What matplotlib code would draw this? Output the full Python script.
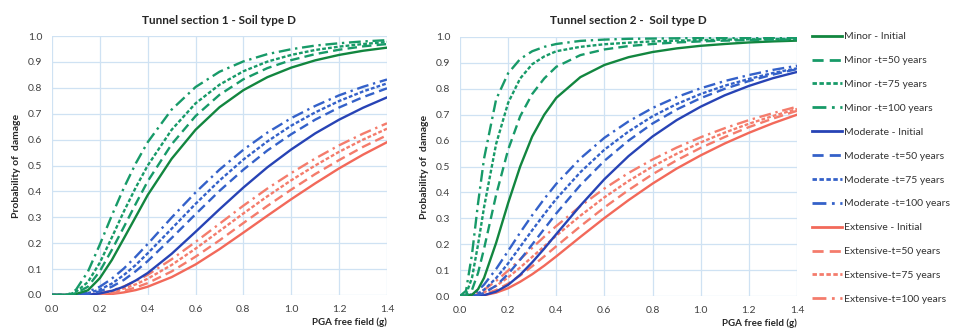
import matplotlib
matplotlib.use('Agg')
import matplotlib.pyplot as plt
from matplotlib.lines import Line2D

plt.rcParams['font.family'] = ['Lato', 'DejaVu Sans']

# PGA free field (g)
pga = [0, 0.025, 0.05, 0.075, 0.1, 0.15, 0.2, 0.25, 0.3, 0.35, 0.4,
       0.5, 0.6, 0.7, 0.8, 0.9, 1.0, 1.1, 1.2, 1.3, 1.4]

# Tunnel section 1
minor_init_1 = [0, 0, 0, 0.001, 0.004, 0.018, 0.065, 0.135, 0.218, 0.302, 0.386, 0.526, 0.638, 0.725, 0.791, 0.841, 0.878, 0.906, 0.927, 0.943, 0.955]
minor_50_1 = [0, 0, 0, 0.002, 0.007, 0.032, 0.092, 0.174, 0.262, 0.352, 0.439, 0.582, 0.691, 0.773, 0.833, 0.876, 0.907, 0.930, 0.947, 0.960, 0.969]
minor_75_1 = [0, 0, 0, 0.003, 0.012, 0.050, 0.125, 0.222, 0.322, 0.415, 0.500, 0.638, 0.740, 0.812, 0.864, 0.901, 0.927, 0.946, 0.959, 0.969, 0.977]
minor_100_1 = [0, 0, 0.001, 0.005, 0.020, 0.090, 0.195, 0.307, 0.413, 0.508, 0.590, 0.716, 0.803, 0.862, 0.902, 0.930, 0.949, 0.963, 0.972, 0.979, 0.984]
moderate_init_1 = [0, 0, 0, 0, 0, 0.001, 0.006, 0.016, 0.032, 0.056, 0.085, 0.159, 0.244, 0.331, 0.415, 0.493, 0.562, 0.624, 0.677, 0.723, 0.763]
moderate_50_1 = [0, 0, 0, 0, 0, 0.004, 0.014, 0.032, 0.058, 0.092, 0.131, 0.220, 0.312, 0.402, 0.484, 0.558, 0.621, 0.677, 0.724, 0.764, 0.798]
moderate_75_1 = [0, 0, 0, 0, 0.001, 0.007, 0.021, 0.044, 0.077, 0.116, 0.161, 0.256, 0.352, 0.442, 0.523, 0.593, 0.654, 0.705, 0.749, 0.786, 0.817]
moderate_100_1 = [0, 0, 0, 0, 0.002, 0.012, 0.032, 0.063, 0.102, 0.148, 0.197, 0.299, 0.396, 0.484, 0.561, 0.627, 0.683, 0.730, 0.771, 0.804, 0.832]
extensive_init_1 = [0, 0, 0, 0, 0, 0, 0.001, 0.004, 0.010, 0.019, 0.032, 0.069, 0.118, 0.177, 0.241, 0.306, 0.370, 0.431, 0.489, 0.542, 0.590]
extensive_50_1 = [0, 0, 0, 0, 0, 0.001, 0.003, 0.007, 0.016, 0.029, 0.046, 0.091, 0.148, 0.211, 0.278, 0.344, 0.407, 0.467, 0.521, 0.572, 0.617]
extensive_75_1 = [0, 0, 0, 0, 0, 0.001, 0.005, 0.012, 0.025, 0.041, 0.063, 0.116, 0.179, 0.247, 0.315, 0.381, 0.443, 0.500, 0.553, 0.600, 0.642]
extensive_100_1 = [0, 0, 0, 0, 0, 0.002, 0.007, 0.017, 0.033, 0.053, 0.078, 0.138, 0.205, 0.275, 0.345, 0.411, 0.471, 0.527, 0.578, 0.623, 0.663]

# Tunnel section 2
minor_init_2 = [0, 0, 0.005, 0.026, 0.070, 0.205, 0.359, 0.500, 0.616, 0.700, 0.765, 0.845, 0.892, 0.922, 0.942, 0.956, 0.966, 0.973, 0.979, 0.983, 0.986]
minor_50_2 = [0, 0.001, 0.024, 0.089, 0.183, 0.390, 0.565, 0.694, 0.780, 0.840, 0.885, 0.930, 0.952, 0.965, 0.973, 0.979, 0.983, 0.986, 0.988, 0.990, 0.991]
minor_75_2 = [0, 0.006, 0.071, 0.199, 0.343, 0.587, 0.746, 0.840, 0.895, 0.925, 0.945, 0.962, 0.972, 0.978, 0.983, 0.986, 0.988, 0.990, 0.991, 0.992, 0.993]
minor_100_2 = [0, 0.020, 0.162, 0.358, 0.531, 0.759, 0.860, 0.915, 0.945, 0.962, 0.973, 0.985, 0.990, 0.993, 0.994, 0.995, 0.996, 0.996, 0.997, 0.997, 0.997]
moderate_init_2 = [0, 0, 0, 0.001, 0.003, 0.017, 0.043, 0.082, 0.130, 0.183, 0.239, 0.349, 0.451, 0.540, 0.616, 0.679, 0.731, 0.775, 0.811, 0.841, 0.865]
moderate_50_2 = [0, 0, 0.001, 0.004, 0.012, 0.040, 0.085, 0.140, 0.199, 0.259, 0.319, 0.428, 0.522, 0.600, 0.666, 0.720, 0.764, 0.800, 0.830, 0.855, 0.876]
moderate_75_2 = [0, 0, 0.003, 0.010, 0.024, 0.069, 0.126, 0.190, 0.254, 0.316, 0.375, 0.478, 0.565, 0.635, 0.694, 0.741, 0.780, 0.812, 0.838, 0.861, 0.879]
moderate_100_2 = [0, 0.001, 0.007, 0.021, 0.044, 0.104, 0.174, 0.245, 0.312, 0.375, 0.433, 0.531, 0.611, 0.674, 0.726, 0.768, 0.802, 0.830, 0.853, 0.873, 0.889]
extensive_init_2 = [0, 0, 0, 0.001, 0.003, 0.013, 0.030, 0.055, 0.084, 0.117, 0.153, 0.228, 0.301, 0.370, 0.434, 0.492, 0.543, 0.589, 0.630, 0.667, 0.700]
extensive_50_2 = [0, 0, 0.001, 0.003, 0.007, 0.023, 0.048, 0.079, 0.115, 0.153, 0.192, 0.269, 0.342, 0.409, 0.470, 0.524, 0.572, 0.614, 0.652, 0.685, 0.715]
extensive_75_2 = [0, 0, 0.002, 0.006, 0.014, 0.039, 0.072, 0.110, 0.151, 0.192, 0.233, 0.310, 0.381, 0.444, 0.500, 0.549, 0.593, 0.631, 0.665, 0.695, 0.722]
extensive_100_2 = [0, 0.001, 0.004, 0.012, 0.024, 0.058, 0.098, 0.142, 0.186, 0.229, 0.270, 0.347, 0.415, 0.475, 0.527, 0.573, 0.613, 0.648, 0.679, 0.706, 0.731]

labels = ['Minor - Initial', 'Minor -t=50 years', 'Minor -t=75 years', 'Minor -t=100 years',
          'Moderate - Initial', 'Moderate -t=50 years', 'Moderate -t=75 years', 'Moderate -t=100 years',
          'Extensive - Initial', 'Extensive-t=50 years', 'Extensive-t=75 years', 'Extensive-t=100 years']

section_1 = [minor_init_1, minor_50_1, minor_75_1, minor_100_1,
             moderate_init_1, moderate_50_1, moderate_75_1, moderate_100_1,
             extensive_init_1, extensive_50_1, extensive_75_1, extensive_100_1]
section_2 = [minor_init_2, minor_50_2, minor_75_2, minor_100_2,
             moderate_init_2, moderate_50_2, moderate_75_2, moderate_100_2,
             extensive_init_2, extensive_50_2, extensive_75_2, extensive_100_2]

# line styles per damage state / time
solid_colors = ['#12863f', '#2743b5', '#f2695a']
dash_colors = ['#179a68', '#3461c9', '#f47c6c']
styles = ['-', (0, (4, 2.2)), (0, (1.6, 0.9)), (0, (5, 2, 1, 2))]

fig = plt.figure(figsize=(9.55, 3.31), dpi=100)
ax1 = fig.add_axes([52 / 955, 1 - 295 / 331, 335 / 955, 259 / 331])
ax2 = fig.add_axes([460 / 955, 1 - 296 / 331, 337 / 955, 259 / 331])

handles = []
for ax, data, title in [(ax1, section_1, 'Tunnel section 1 - Soil type D'),
                        (ax2, section_2, 'Tunnel section 2 -  Soil type D')]:
    for i, vals in enumerate(data):
        state, t = divmod(i, 4)
        c = solid_colors[state] if t == 0 else dash_colors[state]
        ax.plot(pga, vals, color=c, linestyle=styles[t], lw=1.7, zorder=3 + (2 - state))
    ax.set_xlim(0, 1.4)
    ax.set_ylim(0, 1.0)
    ax.set_xticks([0, 0.2, 0.4, 0.6, 0.8, 1.0, 1.2, 1.4])
    ax.set_yticks([i / 10 for i in range(11)])
    ax.xaxis.set_major_formatter(matplotlib.ticker.FormatStrFormatter('%.1f'))
    ax.yaxis.set_major_formatter(matplotlib.ticker.FormatStrFormatter('%.1f'))
    ax.tick_params(length=0, labelsize=7.5, labelcolor='#404040', pad=7)
    ax.grid(True, color='#cfe2f3', lw=0.9)
    ax.set_axisbelow(True)
    for s in ax.spines.values():
        s.set_visible(False)
    ax.set_title(title, fontsize=8.5, fontweight='bold', color='#262626', pad=9)
    ax.set_ylabel('Probability of  damage', fontsize=7.5, fontweight='bold', color='#262626', labelpad=5)
    ax.set_xlabel('PGA free field (g)', fontsize=7, fontweight='bold', color='#262626', loc='right', labelpad=3)

for i, lab in enumerate(labels):
    state, t = divmod(i, 4)
    c = solid_colors[state] if t == 0 else dash_colors[state]
    handles.append(Line2D([], [], color=c, linestyle=styles[t], lw=2, label=lab))

fig.legend(handles=handles, loc='center left', bbox_to_anchor=(812 / 955, 1 - 168 / 331),
           frameon=False, fontsize=7.5, labelcolor='#333333', handlelength=2.9,
           handletextpad=0.2, labelspacing=1.4, borderpad=0, borderaxespad=0)

fig.savefig('out.png', dpi=100)
